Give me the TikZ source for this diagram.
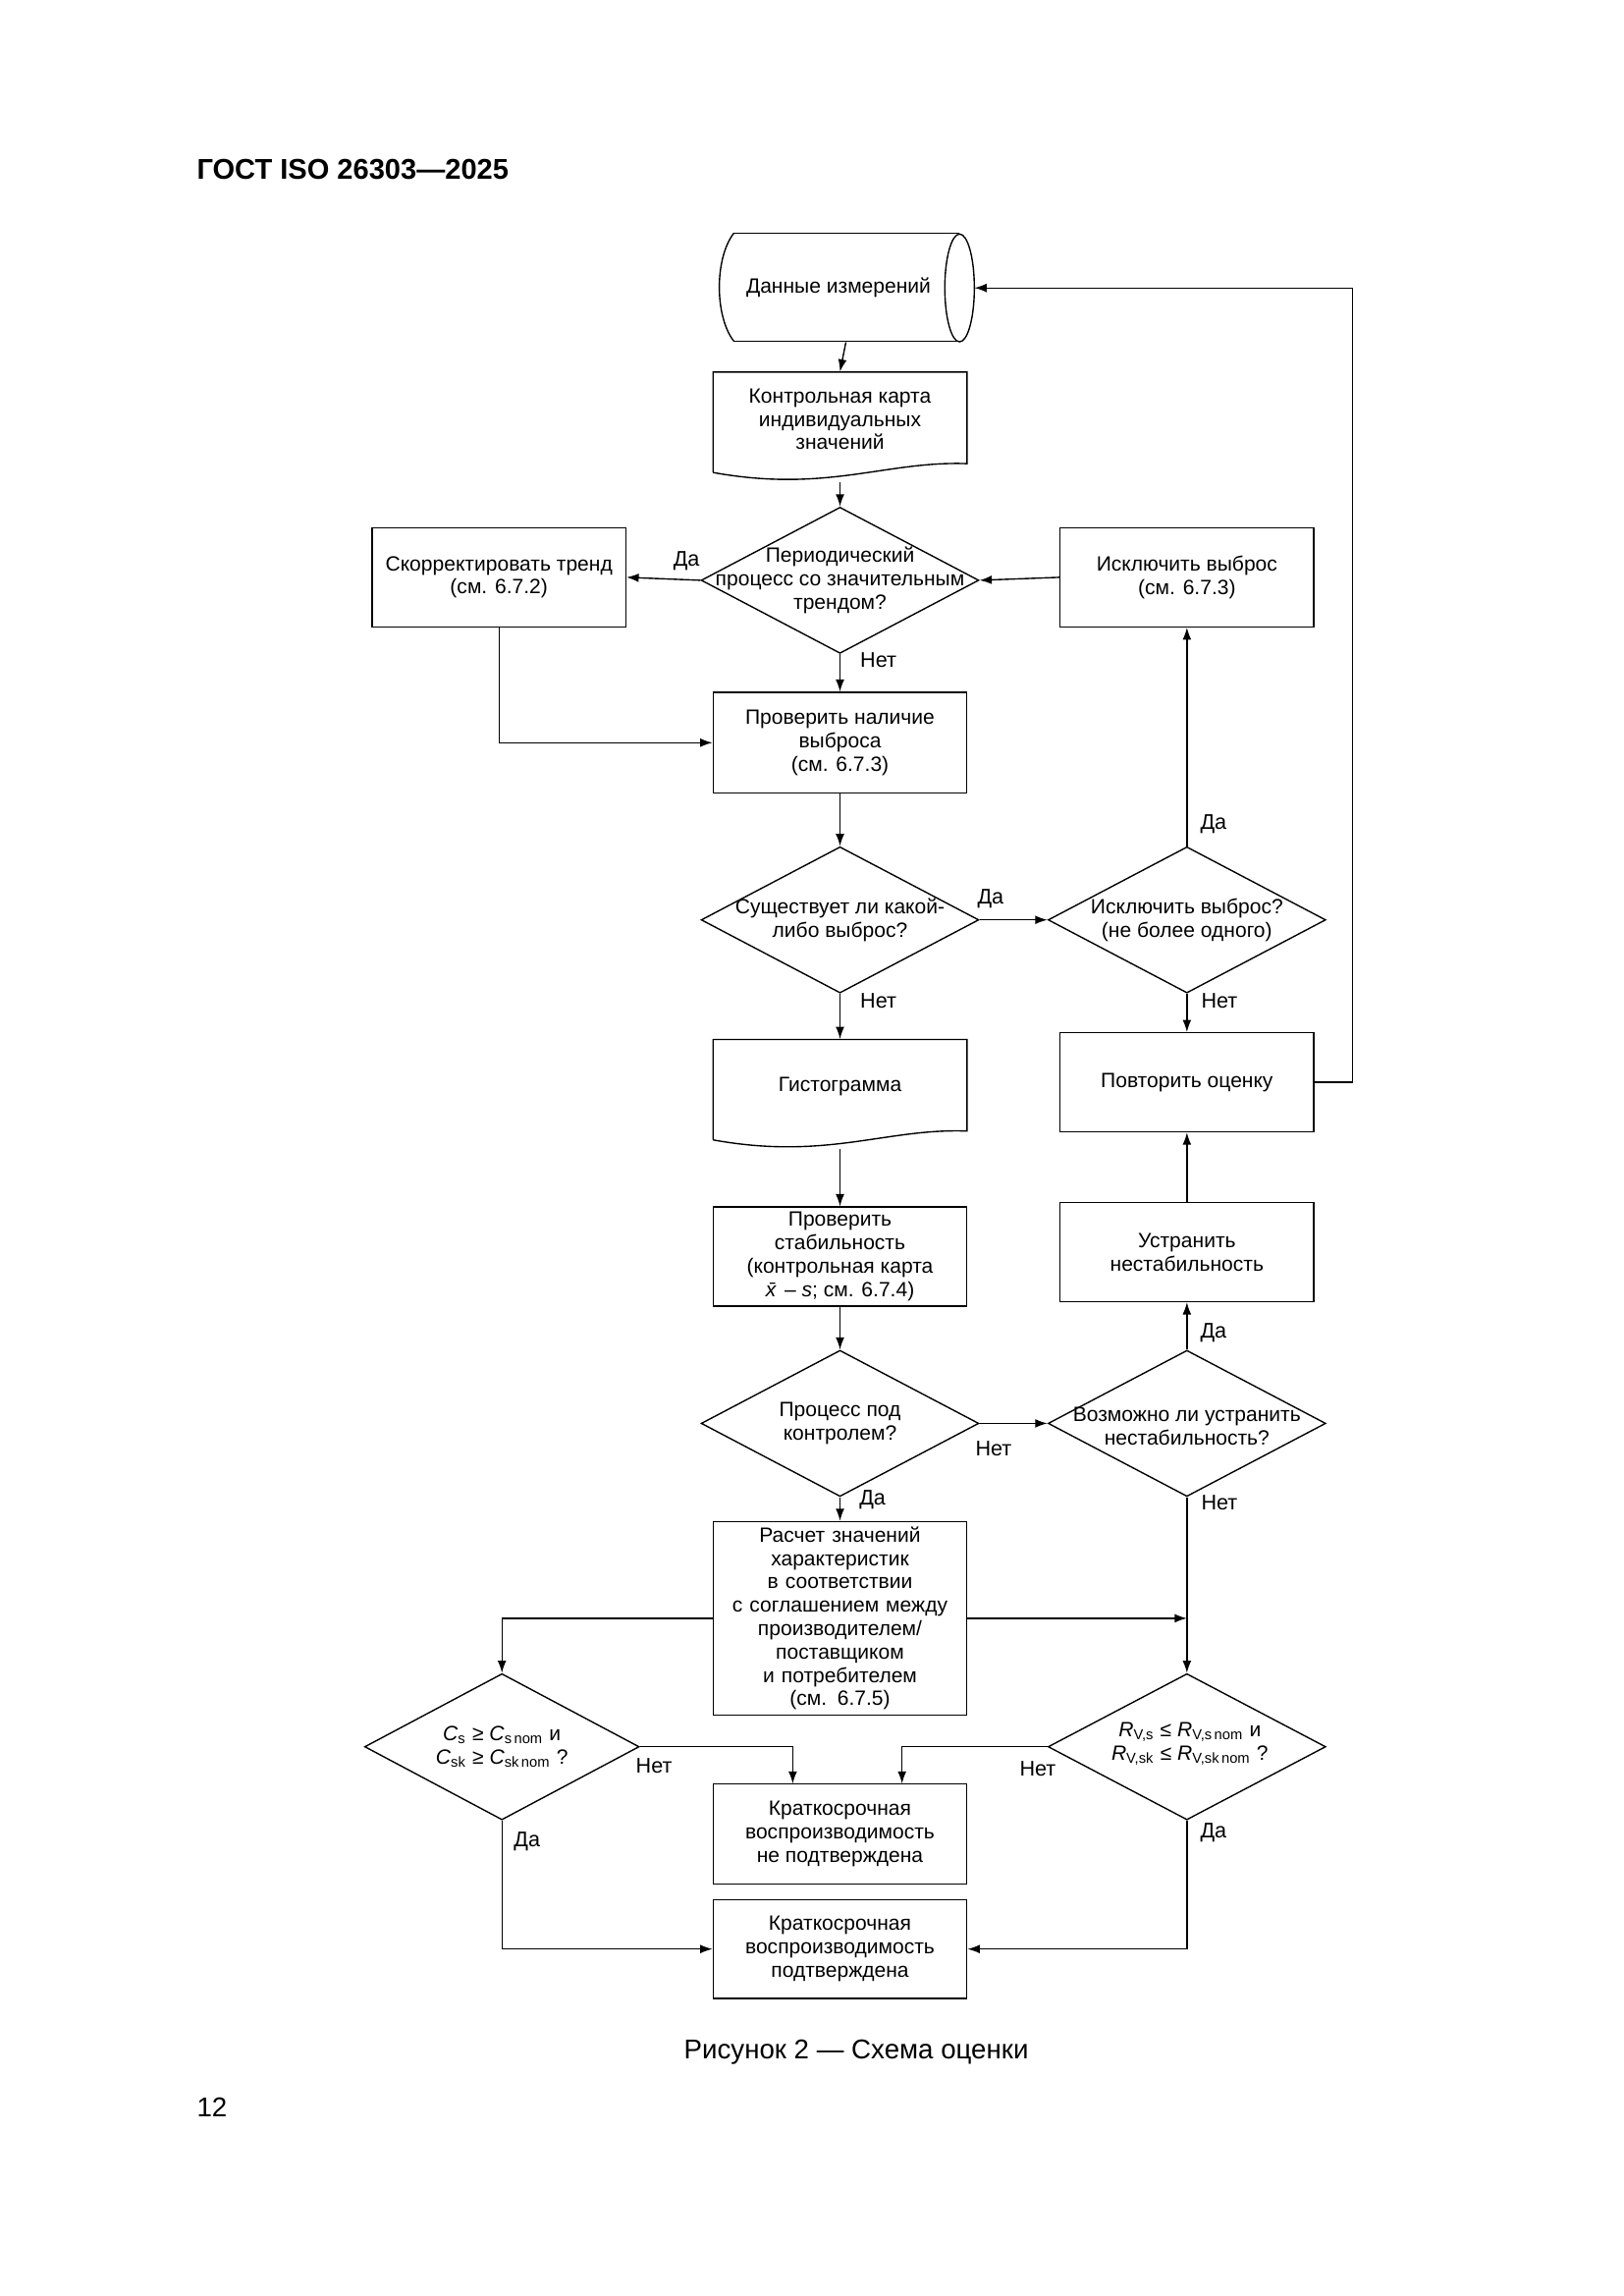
\documentclass[tikz,border=0pt]{standalone}
\usepackage{fontspec}
\setmainfont{Liberation Sans}
\usetikzlibrary{shapes.geometric,arrows.meta}
\begin{document}
\begin{tikzpicture}[x=0.0190909cm,y=-0.0190909cm,
  every node/.style={font=\fontsize{7.6}{8.6}\selectfont},
  box/.style={draw,line width=0.5pt,minimum width=3.28cm,minimum height=1.28cm,align=center,inner sep=1pt},
  ghost/.style={minimum width=3.28cm,minimum height=1.41cm,inner sep=0pt},
  dia/.style={draw,line width=0.5pt,diamond,minimum width=3.59cm,minimum height=1.89cm,inner sep=0pt},
  txt/.style={align=center,inner sep=0pt},
  lab/.style={inner sep=0pt,font=\fontsize{7.8}{9}\selectfont},
  ar/.style={line width=0.5pt,-{Latex[length=4.5pt,width=3.2pt]}},
  ln/.style={line width=0.5pt}]
\useasboundingbox (0,0) rectangle (1100,1555);
\node[anchor=west,inner sep=0pt,font=\bfseries\fontsize{10.5}{12}\selectfont] (hdr) at (133,115) {ГОСТ ISO 26303—2025};
% cylinder
\node[minimum width=3.3cm,minimum height=1.39cm,inner sep=0pt] (cyl) at (573,195) {};
\draw[ln] (497,158) -- (650,158) (497,231) -- (650,231);
\draw[ln] (497,158) .. controls (484,175) and (484,214) .. (497,231);
\draw[ln] (650,195) ellipse [x radius=10, y radius=36.5];
\node[txt] at (568,195) {Данные измерений};
% doc1
\node[ghost] (doc1) at (569,289) {};
\draw[ln] (483,320) -- (483,252) -- (655,252) -- (655,314) .. controls (600,312) and (560,334) .. (483,320);
\node[txt] at (569,284) {Контрольная карта\\индивидуальных\\значений};
\node[dia] (d1) at (569,393) {};
\node[txt] at (569,393) {Периодический\\процесс со значительным\\трендом?};
\node[box] (bl) at (338,391) {Скорректировать тренд\\(см. 6.7.2)};
\node[box] (br) at (804,391) {Исключить выброс\\(см. 6.7.3)};
\node[box,minimum height=1.3cm] (chk) at (569,503) {Проверить наличие\\выброса\\(см. 6.7.3)};
\node[dia] (d2) at (569,623) {};
\node[txt] at (569,623) {Существует ли какой-\\либо выброс?};
\node[dia] (d3) at (804,623) {};
\node[txt] at (804,623) {Исключить выброс?\\(не более одного)};
\node[ghost] (hist) at (569,741) {};
\draw[ln] (483,772) -- (483,704) -- (655,704) -- (655,766) .. controls (600,764) and (560,786) .. (483,772);
\node[txt] at (569,736) {Гистограмма};
\node[box] (rep) at (804,733) {Повторить оценку};
\node[box] (stab) at (569,851) {Проверить\\стабильность\\(контрольная карта\\\textit{\=x} – \textit{s}; см. 6.7.4)};
\node[box] (fix) at (804,848) {Устранить\\нестабильность};
\node[dia] (d4) at (569,964) {};
\node[txt] at (569,964) {Процесс под\\контролем?};
\node[dia] (d5) at (804,964) {};
\node[txt] at (804,966) {Возможно ли устранить\\нестабильность?};
\node[box,minimum height=2.5cm,text width=3.2cm] (calc) at (569,1096) {Расчет значений\\характеристик\\в соответствии\\с соглашением между\\производителем/\\поставщиком\\и потребителем\\(см. 6.7.5)};
\node[dia,minimum width=3.55cm] (d6) at (340,1183) {};
\node[txt] at (340,1183) {\textit{C}\textsubscript{s} ≥ \textit{C}\textsubscript{s\,nom} и\\\textit{C}\textsubscript{sk} ≥ \textit{C}\textsubscript{sk\,nom} ?};
\node[dia] (d7) at (804,1183) {};
\node[txt] at (806,1181) {\textit{R}\textsubscript{V,s} ≤ \textit{R}\textsubscript{V,s\,nom} и\\\textit{R}\textsubscript{V,sk} ≤ \textit{R}\textsubscript{V,sk\,nom} ?};
\node[box,minimum height=1.3cm] (nc) at (569,1242) {Краткосрочная\\воспроизводимость\\не подтверждена};
\node[box] (conf) at (569,1320) {Краткосрочная\\воспроизводимость\\подтверждена};
\node[inner sep=0pt,font=\fontsize{10}{12}\selectfont] (cap) at (580,1390) {Рисунок 2 — Схема оценки};
\node[anchor=west,inner sep=0pt,font=\fontsize{10}{12}\selectfont] (pg) at (133,1427) {12};
% connectors
\draw[ar] (cyl.south) -- (doc1.north);
\draw[ar] (doc1.south) -- (d1.north);
\draw[ar] (d1.west) -- (bl.east);
\draw[ar] (br.west) -- (d1.east);
\draw[ar] (d1.south) -- (chk.north);
\draw[ar] (bl.south) |- (chk.west);
\draw[ar] (chk.south) -- (d2.north);
\draw[ar] (d2.east) -- (d3.west);
\draw[ar] (d3.north) -- (br.south);
\draw[ar] (d3.south) -- (rep.north);
\coordinate (rr) at (916,195);
\draw[ar] (rep.east) -| (rr) -- (660,195);
\draw[ar] (d2.south) -- (hist.north);
\draw[ar] (hist.south) -- (stab.north);
\draw[ar] (stab.south) -- (d4.north);
\draw[ar] (d4.east) -- (d5.west);
\draw[ar] (d5.north) -- (fix.south);
\draw[ar] (fix.north) -- (rep.south);
\draw[ar] (d4.south) -- (calc.north);
\draw[ar] (d5.south) -- (d7.north);
\coordinate (cj) at (804,1096);
\draw[ar] (calc.east) -- (cj);
\draw[ar] (calc.west) -| (d6.north);
\draw[ar] (d6.east) -| (537,1208);
\draw[ar] (d7.west) -| (611,1208);
\draw[ar] (d6.south) |- (conf.west);
\draw[ar] (d7.south) |- (conf.east);
% labels
\node[lab] at (465,380) {Да};
\node[lab] at (595,447) {Нет};
\node[lab] at (671,609) {Да};
\node[lab] at (822,558) {Да};
\node[lab] at (826,678) {Нет};
\node[lab] at (595,678) {Нет};
\node[lab] at (673,981) {Нет};
\node[lab] at (822,903) {Да};
\node[lab] at (826,1018) {Нет};
\node[lab] at (591,1016) {Да};
\node[lab] at (443,1196) {Нет};
\node[lab] at (703,1198) {Нет};
\node[lab] at (357,1247) {Да};
\node[lab] at (822,1241) {Да};
\end{tikzpicture}
\end{document}
